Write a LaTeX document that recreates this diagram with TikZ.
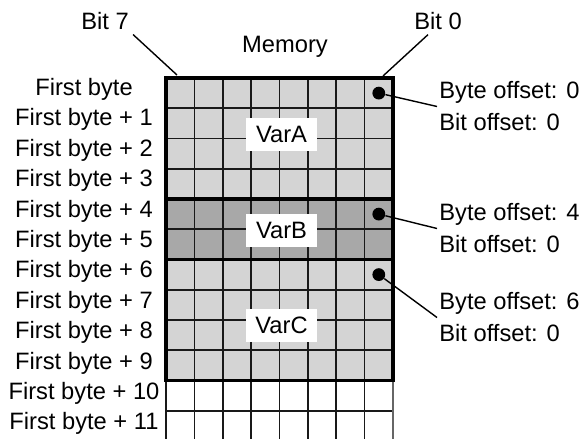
\documentclass[tikz,border=0pt]{standalone}
\usepackage{fontspec}
\setmainfont{Liberation Sans}
\usetikzlibrary{positioning}
\definecolor{varlight}{gray}{0.83}
\definecolor{vardark}{gray}{0.66}

\begin{document}
\begin{tikzpicture}[x=0.5pt,y=-0.5pt,font=\fontsize{11.85}{16}\selectfont,
        gridline/.style={line width=0.8pt,black!90},
        varframe/.style={line width=1.6pt,black},
        leader/.style={line width=0.7pt},
        bitdot/.style={circle,fill=black,minimum size=6.4pt,inner sep=0pt},
        varlabel/.style={fill=white,minimum width=35.5pt,minimum height=16.5pt,inner sep=0pt},
        offlabel/.style={anchor=west,align=left,inner sep=1pt}]
        \useasboundingbox (0,0) rectangle (584,439);

        % Variable areas
        \fill[varlight] (166,78) rectangle (393,199);
        \fill[vardark] (166,199) rectangle (393,259.5);
        \fill[varlight] (166,259.5) rectangle (393,380.5);

        % Bit grid
        \foreach \i in {1,...,7}
            \draw[gridline] ({166+\i*28.375},78) -- ({166+\i*28.375},441);
        \foreach \j in {1,...,11}
            \draw[gridline] (166,{78+\j*30.25}) -- (393,{78+\j*30.25});
        \draw[gridline] (166,380.5) -- (166,441);
        \draw[gridline,black!60] (393,380.5) -- (393,441);

        % Frames of the variables
        \draw[varframe] (166,78) rectangle (393,199);
        \draw[varframe] (166,199) rectangle (393,259.5);
        \draw[varframe] (166,259.5) rectangle (393,380.5);

        % Byte labels
        \node[anchor=base] (row0) at (84,95.5) {First byte};
        \foreach \i in {1,...,11}
            \node[anchor=base] (row\i) at (84,{95.5+30.4*\i}) {First byte + \i};

        % Header
        \node[anchor=base] (memory) at (285,53) {Memory};
        \node[anchor=base,inner sep=2pt] (bit7) at (105,30) {Bit 7};
        \node[anchor=base,inner sep=2pt] (bit0) at (438,30) {Bit 0};
        \coordinate (c7) at (177,75);
        \coordinate (c0) at (383,76);
        \draw[leader] (bit7.south east) -- (c7);
        \draw[leader] ([xshift=-5pt]bit0.south) -- (c0);

        % Variable names
        \node[varlabel] (varA) at (281.5,134.5) {VarA};
        \node[varlabel] (varB) at (281.5,230) {VarB};
        \node[varlabel] (varC) at (281.5,325.5) {VarC};

        % Offsets
        \node[bitdot] (dotA) at (378.8,93.1) {};
        \node[bitdot] (dotB) at (378.8,214.1) {};
        \node[bitdot] (dotC) at (378.8,274.6) {};
        \node[offlabel] (offA) at (437,106.5) {Byte offset: 0\\Bit offset: 0};
        \node[offlabel] (offB) at (437,228.5) {Byte offset: 4\\Bit offset: 0};
        \node[offlabel] (offC) at (437,317.5) {Byte offset: 6\\Bit offset: 0};
        \draw[leader] (dotA) -- (offA.west);
        \draw[leader] (dotB) -- (offB.west);
        \draw[leader] (dotC) -- (offC.west);
    \end{tikzpicture}
\end{document}
